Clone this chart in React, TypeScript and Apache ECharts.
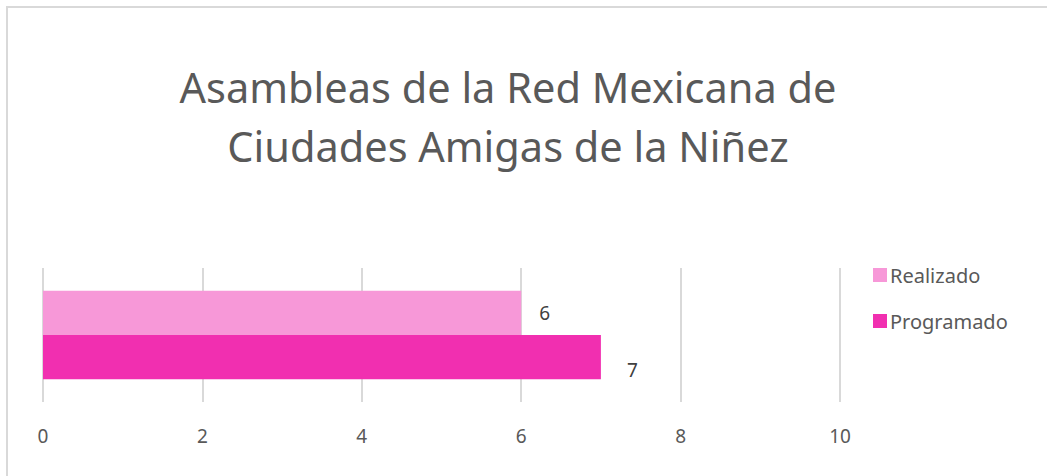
import React, { useEffect, useRef } from "react";
import * as echarts from "echarts";

const categories = ["Asambleas"];
const seriesNames = ["Realizado", "Programado"];
const realizado = [6];
const programado = [7];
const xTicks = [0, 2, 4, 6, 8, 10];
const titleLines = ["Asambleas de la Red Mexicana de", "Ciudades Amigas de la Niñez"];

const FONT = "Noto Sans";
const GRAY = "#595959";

export default function App() {
  const ref = useRef<HTMLDivElement>(null);
  useEffect(() => {
    if (!ref.current) return;
    const chart = echarts.init(ref.current, undefined, { renderer: "svg" });
    chart.setOption({
      animation: false,
      backgroundColor: "#ffffff",
      title: {
        text: titleLines.join("\n"),
        left: 503,
        textAlign: "center",
        top: 52,
        textStyle: { fontFamily: FONT, fontSize: 41.5, fontWeight: "normal", color: GRAY, lineHeight: 59 },
      },
      graphic: [
        {
          type: "rect",
          shape: { x: 7, y: 7, width: 1200, height: 600 },
          style: { fill: "none", stroke: "#d9d9d9", lineWidth: 2 },
          silent: true,
        },
      ],
      legend: {
        orient: "vertical",
        left: 868,
        top: 260,
        itemWidth: 14,
        itemHeight: 14,
        itemGap: 26,
        icon: "rect",
        data: seriesNames,
        textStyle: { fontFamily: FONT, fontSize: 20, color: GRAY, padding: [0, 0, 0, -2] },
      },
      grid: { left: 43, right: 207, top: 268, bottom: 74, containLabel: false },
      xAxis: {
        type: "value",
        min: xTicks[0],
        max: xTicks[xTicks.length - 1],
        interval: 2,
        axisLine: { show: false },
        axisTick: { show: false },
        splitLine: { show: true, lineStyle: { color: "#d9d9d9", width: 2 } },
        axisLabel: { fontFamily: FONT, fontSize: 19, color: GRAY, margin: 24 },
      },
      yAxis: {
        type: "category",
        data: categories,
        inverse: true,
        axisLine: { show: false },
        axisTick: { show: false },
        axisLabel: { show: false },
      },
      series: [
        {
          name: seriesNames[0],
          type: "bar",
          data: realizado,
          barCategoryGap: "34%",
          barGap: "0%",
          itemStyle: { color: "#F798D8" },
          label: { show: true, position: "right", distance: 18, fontFamily: FONT, fontSize: 19, color: "#404040" },
        },
        {
          name: seriesNames[1],
          type: "bar",
          data: programado,
          barCategoryGap: "34%",
          barGap: "0%",
          itemStyle: { color: "#F12FB0" },
          label: { show: true, position: "right", distance: 26, offset: [0, 13], fontFamily: FONT, fontSize: 19, color: "#404040" },
        },
      ],
    });
    return () => chart.dispose();
  }, []);
  return (
    <div
      ref={ref}
      style={{ position: "fixed", left: 0, top: 0, width: 1047, height: 476 }}
    />
  );
}
